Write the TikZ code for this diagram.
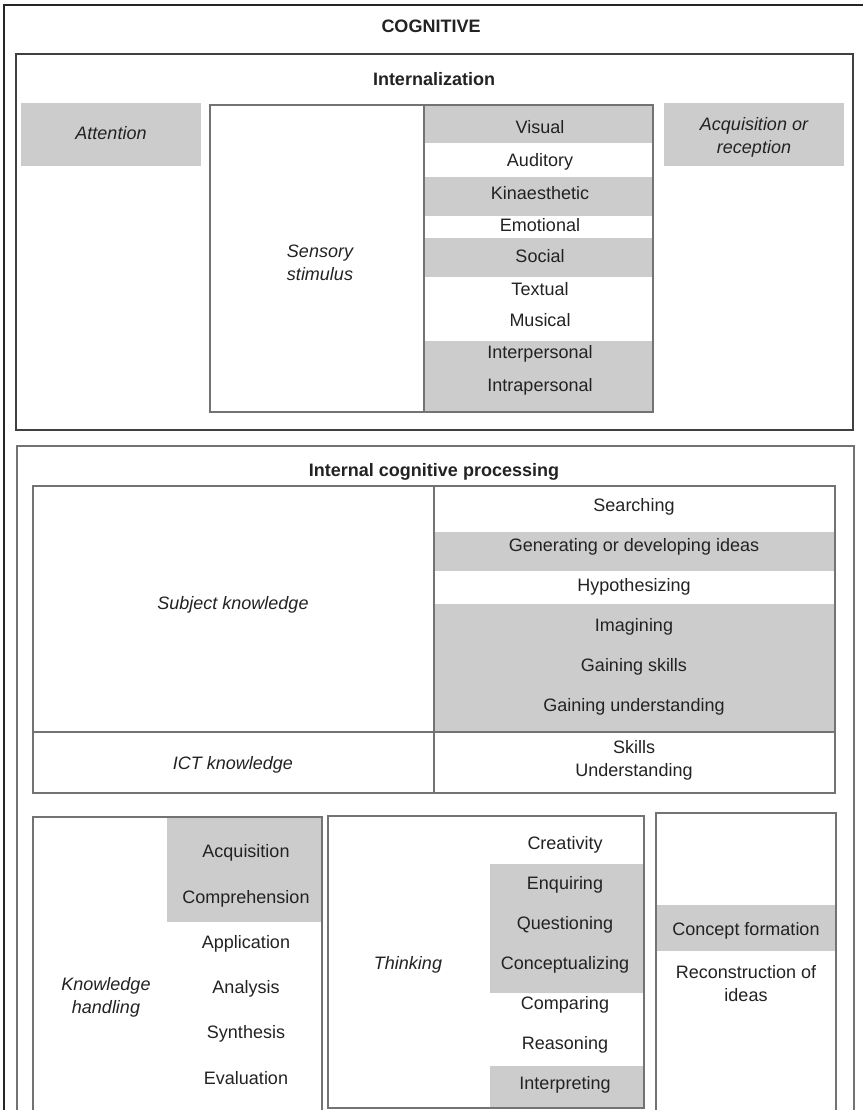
\documentclass[tikz,border=0pt]{standalone}
\usepackage{fontspec}
\setmainfont{Liberation Sans}
\definecolor{bandgray}{HTML}{CCCCCC}
\definecolor{ink}{HTML}{222222}
\begin{document}
\begin{tikzpicture}[x=1pt,y=-1pt,
  txt/.style={anchor=base, inner sep=0pt, text=ink, font=\fontsize{18}{23}\selectfont},
  ital/.style={txt, font=\fontsize{18}{23}\selectfont\itshape},
  ttl/.style={txt, font=\fontsize{18}{23}\selectfont\bfseries},
  twoline/.style={align=center, inner sep=0pt, text=ink, font=\fontsize{18}{23}\selectfont},
  twoital/.style={twoline, font=\fontsize{18}{23}\selectfont\itshape},
  band/.style={fill=bandgray},
  darkframe/.style={draw=black!85, line width=1.3pt},
  midframe/.style={draw=black!75, line width=1.2pt},
  frame/.style={draw=black!55, line width=1.2pt}
]
\useasboundingbox (0,0) rectangle (862,1110);

% ---------- outer COGNITIVE box (cropped right and bottom)
\draw[darkframe] (4,1112) -- (4,5) -- (864,5);
\node[ttl] (cog) at (431,33) {COGNITIVE};

% ---------- Internalization
\draw[midframe] (16,54) rectangle (853,430);
\node[ttl] (intern) at (434,86) {Internalization};

\fill[band] (21,103) rectangle (201,166);
\node[ital] (attention) at (111,140) {Attention};

\fill[band] (664,103) rectangle (844,166);
\node[twoital] (acqrec) at (754,137) {Acquisition or\\reception};

% sensory stimulus table
\fill[band] (424,105) rectangle (653,143);
\fill[band] (424,177) rectangle (653,216);
\fill[band] (424,238) rectangle (653,277);
\fill[band] (424,341) rectangle (653,412);
\draw[frame] (210,105) rectangle (653,412);
\draw[frame] (424,105) -- (424,412);
\node[twoital] (sensory) at (320,263) {Sensory\\stimulus};
\node[txt] (visual) at (540,134) {Visual};
\node[txt] (auditory) at (540,167) {Auditory};
\node[txt] (kin) at (540,199) {Kinaesthetic};
\node[txt] (emo) at (540,231) {Emotional};
\node[txt] (social) at (540,262) {Social};
\node[txt] (textual) at (540,295) {Textual};
\node[txt] (musical) at (540,326) {Musical};
\node[txt] (inter) at (540,358) {Interpersonal};
\node[txt] (intra) at (540,391) {Intrapersonal};

% ---------- Internal cognitive processing (cropped bottom)
\draw[frame] (17,1112) -- (17,446) -- (854,446) -- (854,1112);
\node[ttl] (icp) at (434,476) {Internal cognitive processing};

\fill[band] (434,532) rectangle (835,571);
\fill[band] (434,604) rectangle (835,732);
\draw[frame] (33,486) rectangle (835,793);
\draw[frame] (434,486) -- (434,793);
\draw[frame] (33,732) -- (835,732);
\node[ital] (subj) at (233,609) {Subject knowledge};
\node[txt] (search) at (634,511) {Searching};
\node[txt] (gen) at (634,551) {Generating or developing ideas};
\node[txt] (hyp) at (634,591) {Hypothesizing};
\node[txt] (imag) at (634,631) {Imagining};
\node[txt] (gskills) at (634,671) {Gaining skills};
\node[txt] (gund) at (634,711) {Gaining understanding};
\node[ital] (ict) at (233,769) {ICT knowledge};
\node[twoline] (skund) at (634,760) {Skills\\Understanding};

% ---------- Knowledge handling (cropped bottom)
\fill[band] (167,817) rectangle (322,922);
\draw[frame] (33,1112) -- (33,817) -- (322,817) -- (322,1112);
\node[twoital] (kh) at (106,997) {Knowledge\\handling};
\node[txt] (kacq) at (246,857) {Acquisition};
\node[txt] (kcomp) at (246,903) {Comprehension};
\node[txt] (kapp) at (246,948) {Application};
\node[txt] (kana) at (246,993) {Analysis};
\node[txt] (ksyn) at (246,1038) {Synthesis};
\node[txt] (keva) at (246,1084) {Evaluation};

% ---------- Thinking
\fill[band] (490,864) rectangle (644,993);
\fill[band] (490,1066) rectangle (644,1108);
\draw[frame] (328,816) rectangle (644,1108);
\node[ital] (think) at (408,969) {Thinking};
\node[txt] (crea) at (565,849) {Creativity};
\node[txt] (enq) at (565,889) {Enquiring};
\node[txt] (quest) at (565,929) {Questioning};
\node[txt] (concz) at (565,969) {Conceptualizing};
\node[txt] (comp) at (565,1009) {Comparing};
\node[txt] (reas) at (565,1049) {Reasoning};
\node[txt] (interp) at (565,1089) {Interpreting};

% ---------- Concept formation (cropped bottom)
\fill[band] (656,905) rectangle (836,951);
\draw[frame] (656,1112) -- (656,813) -- (836,813) -- (836,1112);
\node[txt] (cform) at (746,935) {Concept formation};
\node[twoline] (recon) at (746,984) {Reconstruction of\\ideas};
\end{tikzpicture}
\end{document}
